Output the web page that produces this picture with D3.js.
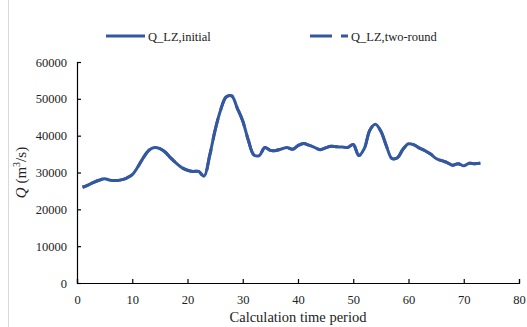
<!DOCTYPE html>
<html><head><meta charset="utf-8">
<script src="https://cdn.jsdelivr.net/npm/d3@7"></script>
<style>
html,body{margin:0;padding:0;background:#fff;}
svg text{font-family:"Liberation Serif","Times New Roman",serif !important;fill:#222;}
</style></head>
<body>
<svg id="chart" width="527" height="327" font-family="Liberation Serif"></svg>
<script>
const periods = d3.range(1, 74);
const initialQ = [26000,26600,27300,27900,28300,27900,27800,28000,28500,29400,
  31500,34000,36000,36800,36500,35500,33900,32500,31300,30600,
  30300,30300,29000,34500,41500,47000,50500,50800,47500,44000,
  38800,34800,34600,36800,36000,36000,36400,36800,36300,37300,
  37900,37400,36800,36200,36700,37100,37000,36900,36800,37600,
  34600,36500,41500,43100,41200,37200,33800,34000,36300,37800,
  37500,36600,35900,35000,33800,33200,32700,32000,32400,31800,
  32500,32400,32500];
const twoRoundQ = initialQ.slice();
const xTicks = [0,10,20,30,40,50,60,70,80];
const yTicks = [0,10000,20000,30000,40000,50000,60000];
const seriesNames = ["Q_LZ,initial","Q_LZ,two-round"];

const svg = d3.select("#chart");
const color = "#3358a0";
const m = {l:77, r:519, t:62, b:283};
const x = d3.scaleLinear().domain([0,80]).range([m.l, m.r]);
const y = d3.scaleLinear().domain([0,60000]).range([m.b, m.t]);

// left border
svg.append("line").attr("x1",8.5).attr("x2",8.5).attr("y1",0).attr("y2",327)
  .attr("stroke","#d9d9d9").attr("stroke-width",1);

// axes
const xa = svg.append("g").attr("transform",`translate(0,${m.b})`)
  .call(d3.axisBottom(x).tickValues(xTicks).tickFormat(d3.format("d")).tickSize(-4).tickSizeOuter(-4).tickPadding(12));
const ya = svg.append("g").attr("transform",`translate(${m.l},0)`)
  .call(d3.axisLeft(y).tickValues(yTicks).tickFormat(d3.format("d")).tickSize(-4).tickSizeOuter(-4).tickPadding(10));
[xa,ya].forEach(a=>{
  a.attr("font-family","Liberation Serif");
  a.selectAll("path,line").attr("stroke","#000").attr("stroke-width",1.2);
  a.selectAll("text").style("font-size","12.5px").attr("fill","#222");
});

const line = d3.line().x((d,i)=>x(periods[i])).y(d=>y(d)).curve(d3.curveCatmullRom.alpha(0.5));
svg.append("path").datum(initialQ).attr("d",line).attr("fill","none")
  .attr("stroke",color).attr("stroke-width",3).attr("stroke-linejoin","round");
svg.append("path").datum(twoRoundQ).attr("d",line).attr("fill","none")
  .attr("stroke",color).attr("stroke-width",3).attr("stroke-dasharray","22,9");

// axis titles
svg.append("text").attr("x",(m.l+m.r)/2).attr("y",322).attr("text-anchor","middle")
  .style("font-size","14.5px").text("Calculation time period");
const yt = svg.append("text").attr("transform",`translate(26,${(m.t+m.b)/2}) rotate(-90)`)
  .attr("text-anchor","middle").style("font-size","15px");
yt.append("tspan").attr("font-style","italic").text("Q");
yt.append("tspan").text(" (m");
yt.append("tspan").attr("font-size","10px").attr("dy",-6).text("3");
yt.append("tspan").attr("dy",6).text("/s)");

// legend
const leg = [{x1:106,x2:145,dash:null,tx:148},{x1:310,x2:348,dash:"22,9",tx:351}];
leg.forEach((l,i)=>{
  svg.append("line").attr("x1",l.x1).attr("x2",l.x2).attr("y1",36).attr("y2",36)
    .attr("stroke",color).attr("stroke-width",3).attr("stroke-dasharray",l.dash);
  svg.append("text").attr("x",l.tx).attr("y",40.5).style("font-size","12.5px").text(seriesNames[i]);
});
</script>
</body></html>
